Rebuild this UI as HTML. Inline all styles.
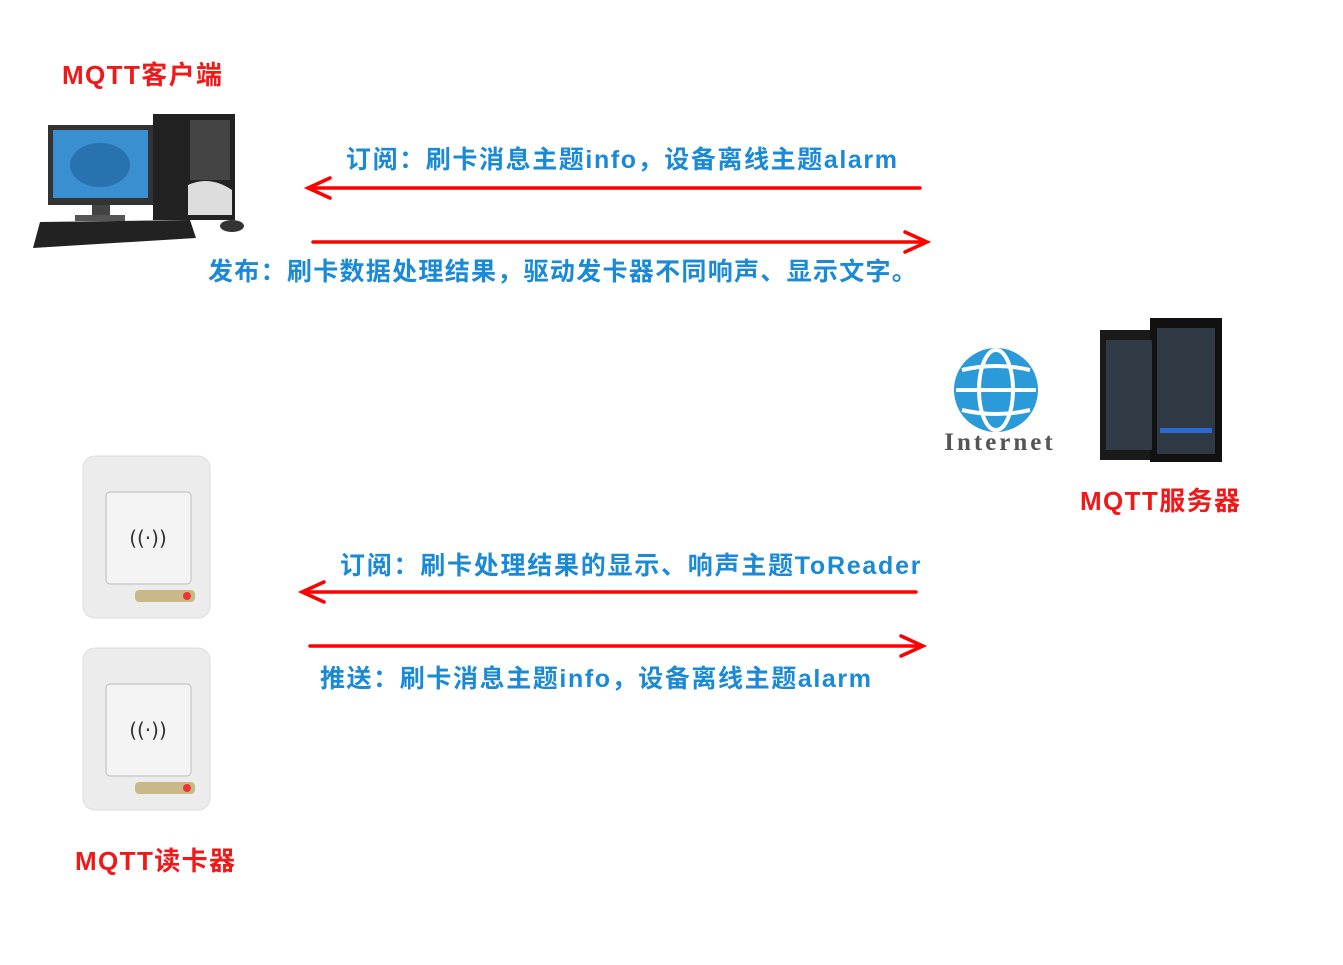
<!DOCTYPE html>
<html><head><meta charset="utf-8"><style>
body{margin:0;width:1343px;height:965px;background:#fff;position:relative;overflow:hidden;font-family:"Liberation Sans","Noto Sans CJK SC",sans-serif}
.t{position:absolute;font-weight:bold;white-space:nowrap;line-height:1}
.r{color:#f01818;font-size:26px;letter-spacing:1.4px}
.b{color:#1a8ad6;font-size:25px}
svg{position:absolute;left:0;top:0}
</style></head><body>
<svg width="1343" height="965">
<rect x="48" y="125" width="105" height="80" fill="#333"/>
<rect x="53" y="130" width="95" height="68" fill="#3a8fd0"/>
<ellipse cx="100" cy="165" rx="30" ry="22" fill="#1d5f9a" opacity=".6"/>
<rect x="92" y="205" width="18" height="12" fill="#444"/>
<rect x="75" y="215" width="50" height="6" fill="#555"/>
<rect x="153" y="114" width="82" height="106" fill="#222"/>
<rect x="190" y="120" width="40" height="60" fill="#444"/>
<path d="M188 185 Q210 175 232 190 L232 215 L188 215Z" fill="#ddd"/>
<polygon points="40,222 190,220 196,238 33,248" fill="#222"/>
<ellipse cx="232" cy="226" rx="12" ry="6" fill="#333"/>
<g stroke="#f00" stroke-width="3.5" fill="none" stroke-linecap="round">
<line x1="310" y1="188" x2="920" y2="188"/><polyline points="330,178 308,188 330,198"/>
<line x1="313" y1="242" x2="926" y2="242"/><polyline points="905,232 927,242 905,252"/>
<line x1="303" y1="592" x2="916" y2="592"/><polyline points="324,582 302,592 324,602"/>
<line x1="310" y1="646" x2="922" y2="646"/><polyline points="901,636 923,646 901,656"/>
</g>
<g>
<rect x="83" y="456" width="127" height="162" rx="12" fill="#ececec" stroke="#ddd"/>
<rect x="106" y="492" width="85" height="92" rx="4" fill="#f4f4f4" stroke="#bbb"/>
<text x="148" y="545" font-size="20" text-anchor="middle" fill="#333" font-family="DejaVu Sans">((·))</text>
<rect x="135" y="590" width="60" height="12" rx="4" fill="#c8b88a"/>
<circle cx="187" cy="596" r="4" fill="#e33"/>
<rect x="83" y="648" width="127" height="162" rx="12" fill="#ececec" stroke="#ddd"/>
<rect x="106" y="684" width="85" height="92" rx="4" fill="#f4f4f4" stroke="#bbb"/>
<text x="148" y="737" font-size="20" text-anchor="middle" fill="#333" font-family="DejaVu Sans">((·))</text>
<rect x="135" y="782" width="60" height="12" rx="4" fill="#c8b88a"/>
<circle cx="187" cy="788" r="4" fill="#e33"/>
</g>
<circle cx="996" cy="390" r="42" fill="#2a9ad8"/>
<g stroke="#fff" stroke-width="4" fill="none">
<ellipse cx="996" cy="390" rx="17" ry="40"/>
<line x1="956" y1="390" x2="1036" y2="390"/>
<path d="M962 370 Q996 362 1030 370 M962 410 Q996 418 1030 410"/>
</g>
<text x="1000" y="450" font-size="25" text-anchor="middle" fill="#555" font-weight="bold" font-family="Liberation Serif" letter-spacing="3">Internet</text>
<rect x="1100" y="330" width="58" height="130" fill="#1a1a1a"/>
<rect x="1150" y="318" width="72" height="144" fill="#111"/>
<g fill="#3a4a5a">
<rect x="1106" y="340" width="46" height="110" opacity=".7"/>
<rect x="1157" y="328" width="58" height="126" opacity=".7"/>
</g>
<rect x="1160" y="428" width="52" height="5" fill="#2a6ad0"/>
</svg>
<div class="t r" style="left:62px;top:62px">MQTT客户端</div>
<div class="t r" style="left:1080px;top:488px">MQTT服务器</div>
<div class="t r" style="left:75px;top:848px">MQTT读卡器</div>
<div class="t b" style="left:346px;top:148px;letter-spacing:1.6px">订阅：刷卡消息主题info，设备离线主题alarm</div>
<div class="t b" style="left:208px;top:260px;letter-spacing:1.3px">发布：刷卡数据处理结果，驱动发卡器不同响声、显示文字。</div>
<div class="t b" style="left:340px;top:554px;letter-spacing:1.75px">订阅：刷卡处理结果的显示、响声主题ToReader</div>
<div class="t b" style="left:320px;top:667px;letter-spacing:1.6px">推送：刷卡消息主题info，设备离线主题alarm</div>
</body></html>
